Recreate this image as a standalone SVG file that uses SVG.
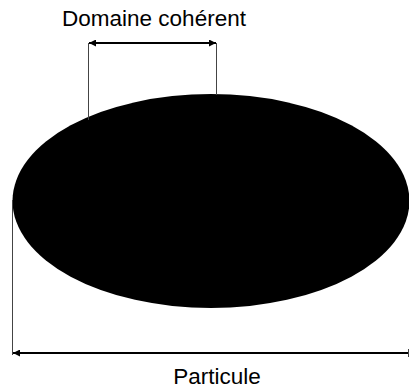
<svg xmlns="http://www.w3.org/2000/svg" width="409" height="391" viewBox="0 0 409 391">
<defs>
<marker id="ah" viewBox="0 0 10 10" refX="10" refY="5" markerWidth="7" markerHeight="7" orient="auto-start-reverse" markerUnits="userSpaceOnUse">
<path d="M0,0 L10,5 L0,10 z" fill="#000"/>
</marker>
<style>
.lbl{font-family:"Liberation Sans",Arial,sans-serif;font-size:22.5px;fill:#000;text-anchor:middle}
.ext{stroke:#444;stroke-width:1;fill:none}
.dim{stroke:#000;stroke-width:2;fill:none}
</style>
</defs>
<rect width="409" height="391" fill="#fff"/>
<g id="particule">
<ellipse cx="211" cy="201" rx="198.5" ry="107" fill="#000"/>
</g>
<g id="connectors">
<line class="ext" x1="88.5" y1="43" x2="88.5" y2="120"/>
<line class="ext" x1="216.5" y1="43" x2="216.5" y2="95"/>
<line class="dim" x1="89" y1="43" x2="216" y2="43" marker-start="url(#ah)" marker-end="url(#ah)"/>
<line class="ext" x1="12.5" y1="200" x2="12.5" y2="355"/>
<line class="dim" x1="13" y1="353" x2="409" y2="353" marker-start="url(#ah)"/>
<line class="ext" x1="408.5" y1="349" x2="408.5" y2="357"/>
</g>
<g id="labels">
<text class="lbl" x="154" y="26">Domaine cohérent</text>
<text class="lbl" x="217" y="384">Particule</text>
</g>
</svg>
